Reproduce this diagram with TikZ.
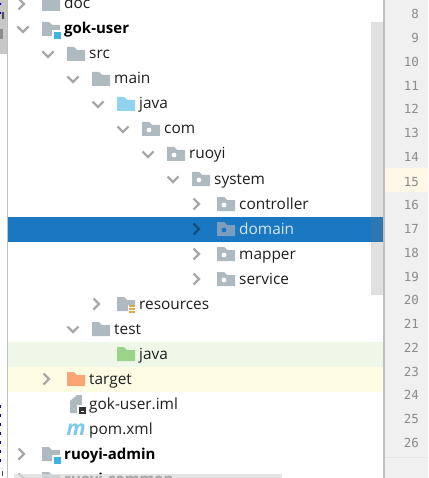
\documentclass[tikz,border=0pt]{standalone}
\usepackage{fontspec}
\setmainfont{Open Sans}
\setmonofont{DejaVu Sans Mono}
\definecolor{foldergray}{HTML}{AEB9C0}
\definecolor{selblue}{HTML}{1A78C2}
\definecolor{selbar}{HTML}{2F77B0}
\definecolor{chevgray}{HTML}{A8A8A8}
\definecolor{chevsel}{HTML}{104D80}
\definecolor{gutter}{HTML}{F0F0F0}
\definecolor{curline}{HTML}{FFF8E6}
\definecolor{greenrow}{HTML}{EEF7E8}
\definecolor{yellowrow}{HTML}{FDFDE4}
\definecolor{srcblue}{HTML}{8FD3EE}
\definecolor{testgreen}{HTML}{9CD38A}
\definecolor{targetorange}{HTML}{F9A574}
\definecolor{badgeblue}{HTML}{3FB4E0}
\definecolor{selfolder}{HTML}{7C9DBB}
\definecolor{restan}{HTML}{E0A850}
\definecolor{seltext}{HTML}{D5E6F5}
\definecolor{pomblue}{HTML}{7CC8EA}
\tikzset{
	rowtext/.style={anchor=base west,inner sep=0pt,font=\fontsize{15.4}{17}\selectfont,text=black!88},
	boldtext/.style={rowtext,font=\fontsize{15}{17}\selectfont\bfseries,text=black},
	numtext/.style={anchor=base east,inner sep=0pt,font=\ttfamily\fontsize{12.5}{14}\selectfont,text=black!45},
	pics/folder/.style={code={
		\fill[#1] (-9,7)--(-9,-7)--(-2,-7)--(1,-4)--(9,-4)--(9,7)--cycle ;
	}},
	pics/pkg/.style={code={
		\fill[#1] (-9,7)--(-9,-7)--(-2,-7)--(1,-4)--(9,-4)--(9,7)--cycle ;
		\fill[white] (-2,1) circle (2.4) ;
	}},
	pics/chevdown/.style={code={
		\draw[#1,line width=2.2pt] (-5.5,-2.5)--(0,3)--(5.5,-2.5) ;
	}},
	pics/chevright/.style={code={
		\draw[#1,line width=2.2pt] (-2.5,-5.5)--(3,0)--(-2.5,5.5) ;
	}},
}
\begin{document}
\begin{tikzpicture}[x=1pt,y=-1pt]
	\useasboundingbox (0,0) rectangle (428,478) ;
	% backgrounds
	\fill[white] (0,0) rectangle (383,478) ;
	\fill[black!22] (0,0) rectangle (7,54) ;
	\fill[black!25] (7,0) rectangle (8,478) ;
	\fill[black!45] (0,29) rectangle (3,39) ;
	\fill[black!70] (2,12) rectangle (4,19) ;
	\fill[blue!80!black] (0,3) rectangle (1,5) (0,12) rectangle (1,14) ;
	\draw[blue!80!black,line width=1.5pt,dash pattern=on 3pt off 6pt] (0.7,405)--(0.7,468) ;
	\fill[black!70] (2,471) rectangle (3,476) ;
	\fill[black!12] (371,22) rectangle (383,295) ;
	\fill[selblue] (8,217) rectangle (383,242) ;
	\fill[selbar] (371,217) rectangle (383,242) ;
	\fill[greenrow] (8,342) rectangle (383,367) ;
	\fill[yellowrow] (8,367) rectangle (383,392) ;
	% gutter
	\fill[gutter] (385,0) rectangle (428,478) ;
	\fill[black!25] (383,0) rectangle (385,478) ;
	\fill[curline] (385,168) rectangle (428,192) ;
	\fill[black!10] (385,457) rectangle (428,458) ;
	\foreach \num/\ypos in {8/19,9/43,10/67,11/91,12/114,13/138,14/162,15/186,16/209,17/233,18/257,19/281,20/304,21/328,22/352,23/376,24/399,25/423,26/447}
		\node[numtext] (num\num) at (419,\ypos) {\num} ;
	% icons
	\pic at (51,4) {folder=foldergray} ;
	\pic at (51,29) {folder=foldergray} ;
	\pic at (76,54) {folder=foldergray} ;
	\pic at (101,79) {folder=foldergray} ;
	\pic at (126,104) {folder=srcblue} ;
	\pic at (151,129) {pkg=foldergray} ;
	\pic at (176,154) {pkg=foldergray} ;
	\pic at (201,179) {pkg=foldergray} ;
	\pic at (226,204) {pkg=foldergray} ;
	\fill[selfolder] (217,236)--(217,222)--(224,222)--(227,225)--(235,225)--(235,236)--cycle ;
	\fill[selblue] (224,230) circle (2.4) ;
	\pic at (226,254) {pkg=foldergray} ;
	\pic at (226,279) {pkg=foldergray} ;
	\pic at (126,304) {folder=foldergray} ;
	\fill[white] (128,305) rectangle (136,314) ;
	\fill[restan] (129,305) rectangle (135,307) (129,308) rectangle (135,310) (129,311) rectangle (135,313) ;
	\pic at (101,329) {folder=foldergray} ;
	\pic at (126,354) {folder=testgreen} ;
	\pic at (76,379) {folder=targetorange} ;
	\pic at (51,454) {folder=foldergray} ;
	\pic at (51,479) {folder=foldergray} ;
	% module badges
	\fill[white] (52,30) rectangle (62,39) ;
	\fill[badgeblue] (54,32) rectangle (61,39) ;
	\fill[white] (52,455) rectangle (62,464) ;
	\fill[badgeblue] (54,457) rectangle (61,464) ;
	% iml file
	\fill[foldergray] (70,408)--(70,401)--(77,395)--(82,395)--(82,413)--(70,413)--cycle ;
	\fill[white] (77,405) rectangle (87,415) ;
	\fill[black!80] (79,407) rectangle (86,414) ;
	\fill[white] (81,411) rectangle (84,412) ;
	% chevrons
	\foreach \xpos/\ypos in {23/29,48/54,73/79,98/104,123/129,148/154,173/179,73/329}
		\pic at (\xpos,\ypos) {chevdown=chevgray} ;
	\foreach \xpos/\ypos in {21/4,196/204,196/254,196/279,96/304,46/379,21/454,21/479}
		\pic at (\xpos,\ypos) {chevright=chevgray} ;
	\pic at (196,229) {chevright=chevsel} ;
	% labels
	\node[rowtext] (doc) at (64,9) {doc} ;
	\node[boldtext] (gokuser) at (64,34) {gok-user} ;
	\node[rowtext] (src) at (89,59) {src} ;
	\node[rowtext] (main) at (114,84) {main} ;
	\node[rowtext] (java) at (139,109) {java} ;
	\node[rowtext] (com) at (164,134) {com} ;
	\node[rowtext] (ruoyi) at (189,159) {ruoyi} ;
	\node[rowtext] (system) at (214,184) {system} ;
	\node[rowtext] (controller) at (239,209) {controller} ;
	\node[rowtext,text=seltext] (domain) at (239,234) {domain} ;
	\node[rowtext] (mapper) at (239,259) {mapper} ;
	\node[rowtext] (service) at (239,284) {service} ;
	\node[rowtext] (resources) at (139,309) {resources} ;
	\node[rowtext] (test) at (114,334) {test} ;
	\node[rowtext] (testjava) at (139,359) {java} ;
	\node[rowtext] (target) at (89,384) {target} ;
	\node[rowtext] (iml) at (89,409) {gok-user.iml} ;
	\node[rowtext] (pom) at (89,434) {pom.xml} ;
	\node[rowtext,font=\fontsize{21}{22}\selectfont\itshape\bfseries,text=pomblue,anchor=base] (pomm) at (76,435) {m} ;
	\node[boldtext] (admin) at (64,459) {ruoyi-admin} ;
	\node[boldtext] (common) at (64,484) {ruoyi-common} ;
	% bottom scroll band
	\fill[black!14,opacity=.75] (14,474) rectangle (282,478) ;
\end{tikzpicture}
\end{document}
